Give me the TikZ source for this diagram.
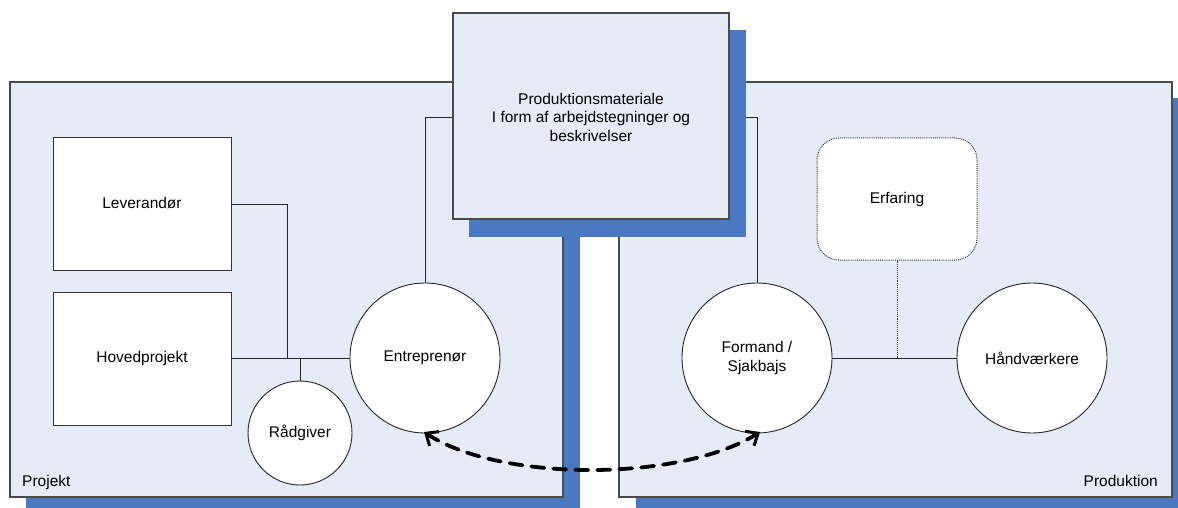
\documentclass[tikz,border=0pt]{standalone}
\usepackage{fontspec}
\setmainfont{Liberation Sans}
\usetikzlibrary{arrows.meta}
\definecolor{panelfill}{HTML}{E6ECF7}
\definecolor{shadowblue}{HTML}{4A78C1}
\definecolor{framegray}{HTML}{4A4A4A}
\tikzset{
  panel/.style={draw=framegray, line width=1.2pt, fill=panelfill},
  shadowbox/.style={fill=shadowblue, draw=none},
  whitebox/.style={draw=black!80, line width=0.9pt, fill=white, inner sep=0pt,
    font=\fontsize{15.5}{18.5}\selectfont, align=center},
  bigcircle/.style={circle, draw=black!85, line width=0.9pt, fill=white, minimum size=150pt,
    inner sep=0pt, font=\fontsize{15.5}{18.5}\selectfont, align=center},
  link/.style={draw=black!85, line width=0.9pt},
  label/.style={font=\fontsize{15.5}{18.5}\selectfont, inner sep=0pt}
}
\begin{document}
\begin{tikzpicture}[x=1pt,y=-1pt]
\useasboundingbox (0,0) rectangle (1178,508);
\clip (0,0) rectangle (1178,508);

% left panel (Projekt)
\fill[shadowbox] (26,98) rectangle (580,514);
\draw[panel] (10,82) rectangle (563,497);
% right panel (Produktion)
\fill[shadowbox] (636,98) rectangle (1190,514);
\draw[panel] (619,82) rectangle (1172,497);

\node[label, anchor=base west] (projekt) at (22,486) {Projekt};
\node[label, anchor=base east] (produktion) at (1158,486) {Produktion};

% project side
\node[whitebox, minimum width=178pt, minimum height=133pt] (lev) at (142,203.5) {Leverandør};
\node[whitebox, minimum width=178pt, minimum height=133pt] (hov) at (142,358.5) {Hovedprojekt};
\node[bigcircle] (ent) at (425,358) {Entreprenør};
\node[bigcircle, minimum size=104pt] (rad) at (300,433) {Rådgiver};

\coordinate (j1) at (287,358);
\coordinate (j2) at (300,358);
\draw[link] (lev.east |- 0,204) -| (j1);
\draw[link] (hov.east |- 0,358) -- (ent.west);
\draw[link] (rad.north) -- (j2);

% production side
\node[bigcircle] (for) at (757,358) {Formand /\\Sjakbajs};
\node[bigcircle] (hand) at (1032,358) {Håndværkere};
\node[whitebox, rounded corners=22pt, draw=black!80, densely dotted, line width=1pt,
      minimum width=160pt, minimum height=122pt] (erf) at (897,199) {Erfaring};
\coordinate (j3) at (897,358);
\draw[link] (for.east) -- (hand.west);
\draw[link, densely dotted, draw=black!75] (erf.south) -- (j3);

% links up to the shared material box
\coordinate (tl) at (453,117);
\coordinate (tr) at (729,117);
\draw[link] (ent.north) |- (tl);
\draw[link] (for.north) |- (tr);

% shared production material
\fill[shadowbox] (469,30) rectangle (746,237);
\node[whitebox, fill=panelfill, draw=framegray, line width=1.1pt,
      minimum width=276pt, minimum height=206pt] (mat) at (591,116) {};
\node[label, align=center] (mattext) at (591,117)
  {Produktionsmateriale\\I form af arbejdstegninger og\\beskrivelser};

% exchange between contractor and foreman
\coordinate (a1) at (424,432);
\coordinate (a2) at (760,432);
\draw[line width=3.8pt, dash pattern=on 13pt off 9pt, line cap=round,
      {Straight Barb[length=10pt,width=17pt,line width=3pt]}-{Straight Barb[length=10pt,width=17pt,line width=3pt]}]
  (a1) .. controls (500,482) and (680,482) .. (a2);
\end{tikzpicture}
\end{document}
